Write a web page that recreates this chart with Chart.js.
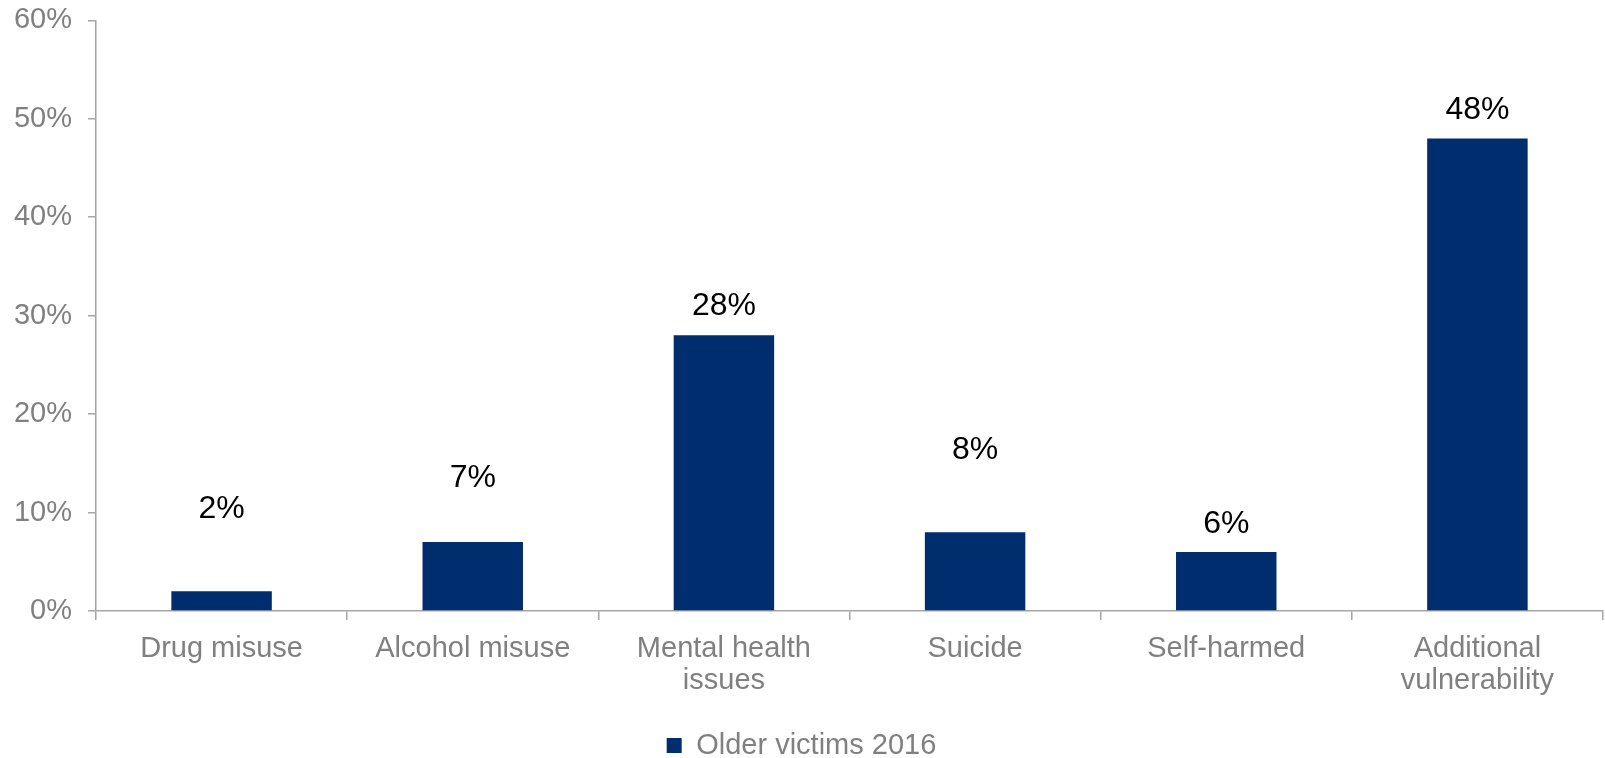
<!DOCTYPE html>
<html>
<head>
<meta charset="utf-8">
<script src="https://cdn.jsdelivr.net/npm/chart.js@4/dist/chart.umd.min.js"></script>
<style>
    html, body { margin: 0; padding: 0; background: #ffffff; }
    #wrap { width: 1605px; height: 758px; position: relative; }
</style>
</head>
<body>
<div id="wrap"><canvas id="victimsChart"></canvas></div>
<script>
const categories = [
    'Drug misuse',
    'Alcohol misuse',
    ['Mental health', 'issues'],
    'Suicide',
    'Self-harmed',
    ['Additional', 'vulnerability']
];
const olderVictims2016 = [2, 7, 28, 8, 6, 48];
const yTicks = [0, 10, 20, 30, 40, 50, 60];

// how far each value label sits above its bar (px)
const labelLift = [82, 64, 29, 82, 28, 28];

const FONT = '"Liberation Sans", Arial, sans-serif';
const GREY = '#808080';
const AXIS = '#A6A6A6';
const NAVY = '#002D6E';

const valueLabels = {
    id: 'valueLabels',
    afterDatasetsDraw(chart) {
        const ctx = chart.ctx;
        const meta = chart.getDatasetMeta(0);
        ctx.save();
        ctx.font = '32px ' + FONT;
        ctx.fillStyle = '#000000';
        ctx.textAlign = 'center';
        ctx.textBaseline = 'middle';
        meta.data.forEach(function(bar, i) {
            const v = chart.data.datasets[0].data[i];
            ctx.fillText(v + '%', bar.x, bar.y - labelLift[i]);
        });
        ctx.restore();
    }
};

document.addEventListener('DOMContentLoaded', function() {
    const ctx = document.getElementById('victimsChart');
    window.victimsChart = new Chart(ctx, {
        type: 'bar',
        data: {
            labels: categories,
            datasets: [{
                label: 'Older victims 2016',
                data: olderVictims2016,
                backgroundColor: NAVY,
                borderWidth: 0,
                categoryPercentage: 1.0,
                barPercentage: 0.4
            }]
        },
        plugins: [valueLabels],
        options: {
            responsive: true,
            maintainAspectRatio: false,
            animation: false,
            devicePixelRatio: 1,
            layout: {
                padding: { top: 20, right: 2, left: 0, bottom: -12 }
            },
            plugins: {
                legend: {
                    display: true,
                    position: 'bottom',
                    labels: {
                        color: GREY,
                        boxWidth: 15,
                        boxHeight: 15,
                        padding: 10,
                        font: { family: FONT, size: 29 }
                    }
                },
                tooltip: { enabled: false }
            },
            scales: {
                x: {
                    grid: {
                        display: true,
                        offset: true,
                        drawOnChartArea: false,
                        drawTicks: true,
                        tickLength: 9,
                        color: AXIS,
                        lineWidth: 1.5
                    },
                    border: { display: true, color: AXIS, width: 1.5 },
                    ticks: {
                        color: GREY,
                        padding: 13,
                        maxRotation: 0,
                        autoSkip: false,
                        font: { family: FONT, size: 29, lineHeight: 1.1 }
                    },
                    afterFit: function(scale) { scale.height = 110; }
                },
                y: {
                    min: 0,
                    max: 60,
                    afterBuildTicks: function(scale) {
                        scale.ticks = yTicks.map(function(v) { return { value: v }; });
                    },
                    grid: {
                        display: true,
                        drawOnChartArea: false,
                        drawTicks: true,
                        tickLength: 8,
                        color: AXIS,
                        lineWidth: 1.5
                    },
                    border: { display: true, color: AXIS, width: 1.5 },
                    ticks: {
                        color: GREY,
                        padding: 16,
                        // single-line labels; small lineHeight keeps the top padding tight
                        font: { family: FONT, size: 29, lineHeight: 0.3 },
                        callback: function(v) { return v + '%'; }
                    },
                    afterFit: function(scale) { scale.width = 96; }
                }
            }
        }
    });
});
</script>
</body>
</html>
